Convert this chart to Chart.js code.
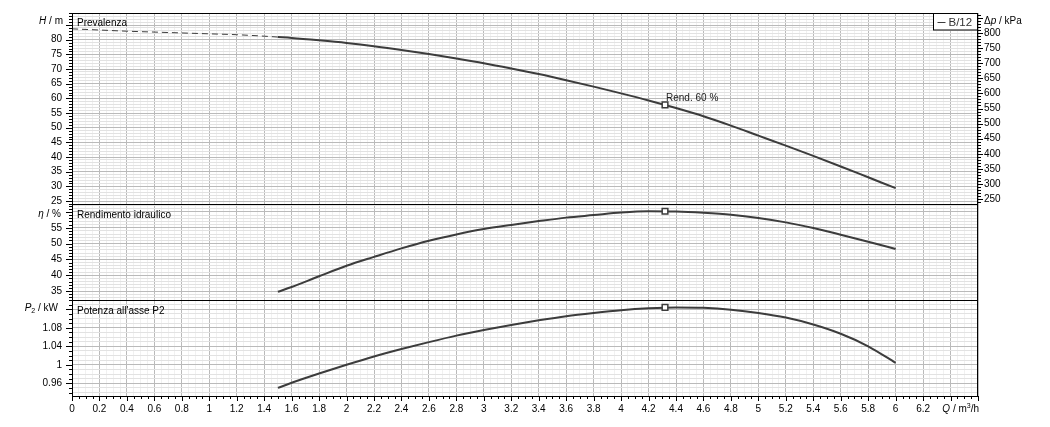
<!DOCTYPE html>
<html>
<head>
<meta charset="utf-8">
<script src="https://cdn.jsdelivr.net/npm/chart.js@4/dist/chart.umd.min.js"></script>
<style>
  html, body { margin: 0; padding: 0; background: #fff; }
  #wrap { width: 1050px; height: 427px; }
</style>
</head>
<body>
<div id="wrap"><canvas id="pump" width="1050" height="427"></canvas></div>
<script>
// pump B/12 - curve values
const flow = [1.5, 1.6, 1.8, 2.0, 2.2, 2.4, 2.6, 2.8, 3.0, 3.2, 3.4, 3.6, 3.8, 4.0, 4.2, 4.4, 4.6, 4.8, 5.0, 5.2, 5.4, 5.6, 5.8, 6.0];
const head = [80.9, 80.6, 79.8, 78.9, 77.8, 76.5, 75.1, 73.6, 72.0, 70.2, 68.3, 66.2, 64.0, 61.7, 59.3, 56.7, 53.9, 50.7, 47.3, 43.9, 40.4, 36.8, 33.1, 29.4];
const efficiency = [34.8, 36.3, 39.7, 43.0, 45.8, 48.5, 50.9, 52.9, 54.6, 55.9, 57.1, 58.2, 59.0, 59.8, 60.2, 60.1, 59.7, 59.1, 58.1, 56.7, 54.9, 52.8, 50.6, 48.3];
const power = [0.950, 0.961, 0.981, 1.000, 1.018, 1.034, 1.049, 1.063, 1.075, 1.086, 1.096, 1.105, 1.112, 1.118, 1.122, 1.124, 1.123, 1.119, 1.112, 1.102, 1.087, 1.067, 1.040, 1.004];

// dashed part of the head curve (outside the working range)
const shutoffFlow = [0, 0.2, 0.4, 0.6, 0.8, 1.0, 1.2, 1.4, 1.5];
const shutoffHead = [83.7, 83.3, 82.9, 82.6, 82.3, 82.0, 81.7, 81.2, 80.9];

// best efficiency point
const dutyFlow = [4.32];
const dutyHead = [57.8];
const dutyEff = [60.2];
const dutyPower = [1.124];

// tick labels
const qLabels = [0, 0.2, 0.4, 0.6, 0.8, 1, 1.2, 1.4, 1.6, 1.8, 2, 2.2, 2.4, 2.6, 2.8, 3, 3.2, 3.4, 3.6, 3.8, 4, 4.2, 4.4, 4.6, 4.8, 5, 5.2, 5.4, 5.6, 5.8, 6, 6.2];
const headLabels = [25, 30, 35, 40, 45, 50, 55, 60, 65, 70, 75, 80];
const effLabels = [35, 40, 45, 50, 55];
const powerLabels = [0.96, 1, 1.04, 1.08];
const dpLabels = [250, 300, 350, 400, 450, 500, 550, 600, 650, 700, 750, 800];

const INK = '#3c3c3c';
const FAM = "'Liberation Sans', Arial, sans-serif";

const pts = (xs, ys) => xs.map((x, i) => ({x: x, y: ys[i]}));
const isMult = (v, step) => Math.abs(v / step - Math.round(v / step)) < 1e-6;
const hasLabel = (list, v) => list.some(l => Math.abs(l - v) < 1e-6);
const fmt = v => String(Math.round(v * 100) / 100);

function grid(step, minorColor) {
  return {
    drawTicks: false,
    lineWidth: 1,
    color: c => (c.tick && isMult(c.tick.value, step)) ? '#bababa' : minorColor
  };
}

function fixWidth(w) {
  return s => { s.width = w; s.paddingTop = 0; s.paddingBottom = 0; };
}

function rich(ctx, parts, x, y, align) {
  const fontOf = p => (p.it ? 'italic ' : '') + ((p.sub || p.sup) ? 7 : 10) + 'px ' + FAM;
  let w = 0;
  parts.forEach(p => { ctx.font = fontOf(p); w += ctx.measureText(p.t).width; });
  let cx = align === 'right' ? x - w : x;
  ctx.textAlign = 'left';
  ctx.textBaseline = 'middle';
  parts.forEach(p => {
    ctx.font = fontOf(p);
    ctx.fillText(p.t, cx, y + (p.sub ? 3 : p.sup ? -3 : 0));
    cx += ctx.measureText(p.t).width;
  });
}

const decor = {
  id: 'decor',
  afterDraw(chart) {
    const ctx = chart.ctx;
    const a = chart.chartArea;
    const s = chart.scales;
    ctx.save();
    ctx.strokeStyle = '#000';
    ctx.lineWidth = 1;

    // tick marks
    const mark = (scale, step, dir) => {
      scale.ticks.forEach(t => {
        const major = isMult(t.value, step);
        const len = major ? 5 : 3;
        const p = Math.round(scale.getPixelForValue(t.value)) + 0.5;
        ctx.beginPath();
        if (dir === 'down') { ctx.moveTo(p, a.bottom); ctx.lineTo(p, a.bottom + len); }
        else if (dir === 'left') { ctx.moveTo(a.left, p); ctx.lineTo(a.left - len - (major ? 1 : 0), p); }
        else { ctx.moveTo(a.right, p); ctx.lineTo(a.right + len, p); }
        ctx.stroke();
      });
    };
    mark(s.x, 0.2, 'down');
    mark(s.y, 5, 'left');
    mark(s.y2, 5, 'left');
    mark(s.y3, 0.04, 'left');
    mark(s.yR, 50, 'right');

    // frame + panel separators
    ctx.strokeRect(a.left + 0.5, a.top + 0.5, a.right - a.left - 1, a.bottom - a.top);
    [s.y2.top, s.y3.top].forEach(y => {
      const yy = Math.round(y) + 0.5;
      ctx.beginPath(); ctx.moveTo(a.left, yy); ctx.lineTo(a.right, yy); ctx.stroke();
    });

    // axis titles
    ctx.fillStyle = '#000';
    rich(ctx, [{t: 'H', it: true}, {t: ' / m'}], 63, s.y.top + 8, 'right');
    rich(ctx, [{t: 'η', it: true}, {t: ' / %'}], 61, s.y2.top + 10, 'right');
    rich(ctx, [{t: 'P', it: true}, {t: '2', sub: true}, {t: ' / kW'}], 58, s.y3.top + 8, 'right');
    rich(ctx, [{t: 'Δ'}, {t: 'p', it: true}, {t: ' / kPa'}], a.right + 6, s.yR.top + 8, 'left');
    rich(ctx, [{t: 'Q', it: true}, {t: ' / m'}, {t: '3', sup: true}, {t: '/h'}], a.right + 1, a.bottom + 13, 'right');
    ctx.restore();

    ctx.save();
    ctx.fillStyle = '#000';
    ctx.font = '10px ' + FAM;
    ctx.textAlign = 'left';
    ctx.textBaseline = 'middle';
    ctx.fillText('Prevalenza', a.left + 5, s.y.top + 10);
    ctx.fillText('Rendimento idraulico', a.left + 5, s.y2.top + 11);
    ctx.fillText("Potenza all'asse P2", a.left + 5, s.y3.top + 11);

    // duty point label
    const bep = chart.getDatasetMeta(0).data[0];
    ctx.fillStyle = '#222';
    ctx.fillText('Rend. 60 %', bep.x + 1, bep.y - 7);

    // legend box
    const label = chart.data.datasets[3].label;
    ctx.font = '11.5px ' + FAM;
    const tw = ctx.measureText(label).width;
    const bw = Math.round(tw + 20);
    const bx = a.right - bw - 0.5;
    const by = a.top + 0.5;
    ctx.fillStyle = '#fff';
    ctx.fillRect(bx, by, bw, 16.5);
    ctx.strokeStyle = '#000';
    ctx.strokeRect(bx, by, bw, 16.5);
    ctx.strokeStyle = INK;
    ctx.beginPath(); ctx.moveTo(bx + 4, by + 9); ctx.lineTo(bx + 12, by + 9); ctx.stroke();
    ctx.fillStyle = '#333';
    ctx.fillText(label, bx + 15, by + 9);
    ctx.restore();
  }
};

const marker = (data, axis) => ({
  data: data,
  yAxisID: axis,
  showLine: false,
  pointStyle: 'rect',
  pointRadius: 4,
  pointBackgroundColor: '#fff',
  pointBorderColor: INK,
  pointBorderWidth: 1.5,
  order: 0
});

const curve = (data, axis, extra) => Object.assign({
  data: data,
  yAxisID: axis,
  borderColor: INK,
  borderWidth: 2,
  pointRadius: 0,
  cubicInterpolationMode: 'monotone',
  order: 1
}, extra || {});

Chart.defaults.font.family = FAM;
Chart.defaults.font.size = 10;
Chart.defaults.color = '#000';

new Chart(document.getElementById('pump'), {
  type: 'line',
  data: {
    datasets: [
      marker(pts(dutyFlow, dutyHead), 'y'),
      marker(pts(dutyFlow, dutyEff), 'y2'),
      marker(pts(dutyFlow, dutyPower), 'y3'),
      curve(pts(flow, head), 'y', {label: 'B/12'}),
      curve(pts(shutoffFlow, shutoffHead), 'y', {borderWidth: 1, borderDash: [6, 4]}),
      curve(pts(flow, efficiency), 'y2'),
      curve(pts(flow, power), 'y3')
    ]
  },
  options: {
    responsive: false,
    animation: false,
    events: [],
    layout: {padding: {top: 13, left: 0, right: 0, bottom: 0}},
    plugins: {legend: {display: false}, tooltip: {enabled: false}},
    scales: {
      x: {
        type: 'linear', position: 'bottom', min: 0, max: 6.6,
        border: {display: false},
        grid: grid(0.2, '#f1f1f1'),
        afterFit: s => { s.height = 31; s.paddingLeft = 0; s.paddingRight = 0; },
        ticks: {
          stepSize: 0.05, includeBounds: false, autoSkip: false, maxRotation: 0, padding: 7,
          callback: v => hasLabel(qLabels, v) ? fmt(v) : ''
        }
      },
      y: {
        type: 'linear', position: 'left', stack: 'left', stackWeight: 191, weight: 3,
        min: 24, max: 89.1,
        border: {display: false},
        grid: grid(5, '#e2e2e2'),
        afterFit: fixWidth(72),
        ticks: {stepSize: 1, includeBounds: false, autoSkip: false, padding: 10,
          callback: v => hasLabel(headLabels, v) ? fmt(v) : ''}
      },
      y2: {
        type: 'linear', position: 'left', stack: 'left', stackWeight: 96, weight: 2,
        min: 32.2, max: 62.5,
        border: {display: false},
        grid: grid(5, '#e2e2e2'),
        afterFit: fixWidth(72),
        ticks: {stepSize: 1, includeBounds: false, autoSkip: false, padding: 10,
          callback: v => hasLabel(effLabels, v) ? fmt(v) : ''}
      },
      y3: {
        type: 'linear', position: 'left', stack: 'left', stackWeight: 96, weight: 1,
        min: 0.9325, max: 1.14,
        border: {display: false},
        grid: grid(0.04, '#e2e2e2'),
        afterFit: fixWidth(72),
        ticks: {stepSize: 0.01, includeBounds: false, autoSkip: false, padding: 10,
          callback: v => hasLabel(powerLabels, v) ? fmt(v) : ''}
      },
      yR: {
        type: 'linear', position: 'right', stack: 'right', stackWeight: 191, weight: 1,
        min: 234, max: 866,
        border: {display: false},
        grid: {display: false, drawTicks: false},
        afterFit: fixWidth(72),
        ticks: {stepSize: 10, includeBounds: false, autoSkip: false, padding: 6,
          callback: v => hasLabel(dpLabels, v) ? fmt(v) : ''}
      },
      yR2: {
        type: 'linear', position: 'right', stack: 'right', stackWeight: 96, weight: 2,
        min: 0, max: 1,
        border: {display: false}, grid: {display: false, drawTicks: false},
        ticks: {display: false}, afterFit: fixWidth(72)
      },
      yR3: {
        type: 'linear', position: 'right', stack: 'right', stackWeight: 96, weight: 3,
        min: 0, max: 1,
        border: {display: false}, grid: {display: false, drawTicks: false},
        ticks: {display: false}, afterFit: fixWidth(72)
      }
    }
  },
  plugins: [decor]
});
</script>
</body>
</html>
